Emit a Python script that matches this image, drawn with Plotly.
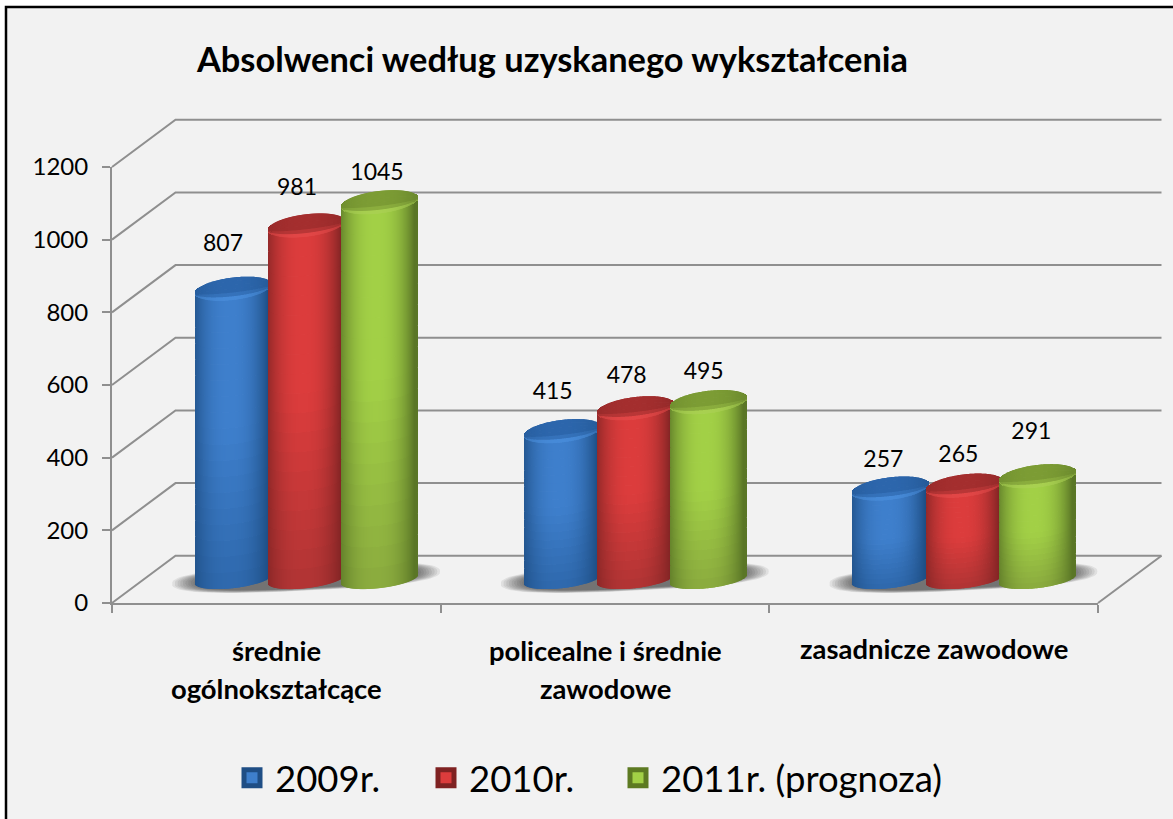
import math
import plotly.graph_objects as go

# ---- data ----
categories = [["średnie", "ogólnokształcące"], ["policealne i średnie", "zawodowe"], ["zasadnicze zawodowe"]]
series_names = ["2009r.", "2010r.", "2011r. (prognoza)"]
values_2009 = [807, 415, 257]
values_2010 = [981, 478, 265]
values_2011 = [1045, 495, 291]
y_ticks = [0, 200, 400, 600, 800, 1000, 1200]
title_text = "Absolwenci według uzyskanego wykształcenia"

# ---- styles / layout ----
W, H = 1173, 819
L, R, T, B = 112, 1098, 167, 603          # visible axes box
OL, OT, OB = 100, 100, 620                # outer plot area (walls, shadows)
PX_X = (R - L) / 3
PX_Y = (B - T) / 1200
FONT = "Lato"
GRID = "#8f8f8f"
BG = "#f2f2f2"
# (centre, bottom, edge, cap, rim, legend line)
palettes = [
    ((62, 127, 204), (46, 104, 172), (30, 78, 132), (44, 102, 172), (70, 138, 216), "#1f4e85"),
    ((220, 60, 60), (176, 52, 52), (130, 36, 36), (164, 46, 46), (226, 70, 70), "#7f2222"),
    ((162, 208, 70), (138, 170, 62), (90, 118, 38), (124, 156, 52), (168, 208, 80), "#5d7a22"),
]
series_values = [values_2009, values_2010, values_2011]
bar_offsets = [121.6 / PX_X, 195 / PX_X, 268 / PX_X]
bar_w = 76.6 / PX_X
base_c = 66.0            # value height of the base ellipse centre (floor depth)
top_shift = 58.0         # value height added to the cap centre
depth = 130.0            # value shift of the back wall
depth_x = 63.5 / PX_X    # x shift of the back wall
tilt = 103.0             # ellipse tilt, value per x-unit
ry_top, ry_bot = 31.0, 25.0
# label nudges: (px x, value y)
label_nudge = [
    [(-10.6, 177), (-10, 159), (-3, 134)],
    [(-9.6, 161), (-9, 142), (-5, 136)],
    [(-7.6, 134), (-6, 140), (-6, 177)],
]
legend_widths = [143, 141, 330]


def mix(a, b, t):
    return tuple(a[i] + (b[i] - a[i]) * t for i in range(3))


def rgb(c):
    return "rgb(%d,%d,%d)" % tuple(max(0, min(255, round(v))) for v in c)


def cylinder(si):
    pal = palettes[si]
    xs, bases, hs, cols = [], [], [], []
    strip = 1 / PX_X
    n = int(bar_w / strip)
    for gi in range(3):
        v = series_values[si][gi]
        cx = gi + bar_offsets[si]
        top_c = v + top_shift
        for k in range(n):
            dx = (k + 0.5 - n / 2) * strip
            t = dx / (bar_w / 2)
            s = math.sqrt(max(0, 1 - t * t))
            h_shade = abs(t + 0.08) ** 2.4
            lo = base_c + tilt * dx - ry_bot * s
            hi = top_c + tilt * dx - ry_top * s
            cap_hi = top_c + tilt * dx + ry_top * s
            # body
            m = 18
            for j in range(m):
                f0, f1 = j / m, (j + 1) / m
                vert = min(1, ((j + 0.5) / m) / 0.55)
                c = mix(pal[1], pal[0], vert)
                c = mix(c, pal[2], min(1, h_shade))
                xs.append(cx + dx)
                bases.append(lo + (hi - lo) * f0)
                hs.append((hi - lo) * (f1 - f0) + 0.8)
                cols.append(rgb(c))
            # cap
            m2 = 6
            for j in range(m2):
                f0, f1 = j / m2, (j + 1) / m2
                c = mix(pal[4], pal[3], min(1, j / 1.5))
                c = mix(c, pal[2], min(1, h_shade) * 0.45)
                xs.append(cx + dx)
                bases.append(hi + (cap_hi - hi) * f0)
                hs.append((cap_hi - hi) * (f1 - f0) + (0.8 if j < m2 - 1 else 0))
                cols.append(rgb(c))
    return go.Bar(
        x=xs, base=bases, y=hs, width=strip * 1.05,
        marker=dict(color=cols, line=dict(width=0)),
        xaxis="x2", yaxis="y2", cliponaxis=False, hoverinfo="skip", showlegend=False,
    )


fig = go.Figure()

# walls: back lines and side diagonals, on the wide hidden axes so that they lie under the bars
for v in y_ticks:
    fig.add_trace(go.Scatter(
        x=[0, depth_x, 3 + depth_x], y=[v, v + depth, v + depth], mode="lines",
        line=dict(color=GRID, width=2), hoverinfo="skip", showlegend=False,
    ))
fig.add_trace(go.Scatter(
    x=[3, 3 + depth_x], y=[0, depth], mode="lines",
    line=dict(color=GRID, width=2), hoverinfo="skip", showlegend=False,
))

# floor shadows: stacked translucent rounded ellipses give a soft edge
for gi in range(3):
    sx = gi + 194 / PX_X
    for i in range(10):
        grow = 1 - i * 0.02
        xs, ys = [], []
        for a in range(73):
            ang = a / 72 * 2 * math.pi
            ca, sa = math.cos(ang), math.sin(ang)
            dx = math.copysign(abs(ca) ** 0.7, ca) * (134 / PX_X) * grow
            xs.append(sx + dx)
            ys.append(70 + 42 * dx + math.copysign(abs(sa) ** 0.8, sa) * 36 * grow)
        fig.add_trace(go.Scatter(
            x=xs, y=ys, mode="lines", fill="toself", fillcolor="rgba(40,40,40,0.085)",
            line=dict(width=0), hoverinfo="skip", showlegend=False,
        ))

for si in range(3):
    fig.add_trace(cylinder(si))

# value labels
lab_x, lab_y, lab_t = [], [], []
for si in range(3):
    for gi in range(3):
        v = series_values[si][gi]
        nx, ny = label_nudge[gi][si]
        lab_x.append(gi + bar_offsets[si] + nx / PX_X)
        lab_y.append(v + ny)
        lab_t.append(str(v))
fig.add_trace(go.Scatter(
    x=lab_x, y=lab_y, text=lab_t, mode="text", textposition="middle center",
    textfont=dict(family=FONT, size=23, color="#000000"),
    xaxis="x2", yaxis="y2", cliponaxis=False, hoverinfo="skip", showlegend=False,
))

# legend entries
for si, name in enumerate(series_names):
    fig.add_trace(go.Scatter(
        x=[None], y=[None], mode="markers", name=name, legendwidth=legend_widths[si],
        marker=dict(symbol="square", size=16, color=rgb(palettes[si][0]),
                    line=dict(color=palettes[si][5], width=5)),
        hoverinfo="skip",
    ))


def py(p):
    return (OB - p) / (OB - OT)


def px(p):
    return (p - OL) / (W - OL)


annotations = []
cat_y = [[650, 688], [650, 688], [648]]
for gi, lines in enumerate(categories):
    for li, line in enumerate(lines):
        annotations.append(dict(
            text=line, x=gi + 0.5, xref="x2", y=py(cat_y[gi][li]), yref="paper",
            xanchor="center", yanchor="middle", showarrow=False,
            font=dict(family=FONT, size=27.4, color="#000000", weight="bold"),
        ))

axis_common = dict(showgrid=False, zeroline=False, linecolor=GRID, linewidth=2,
                   ticks="outside", tickcolor=GRID, tickwidth=2, ticklen=8)
fig.update_layout(
    width=W, height=H, autosize=False,
    margin=dict(l=OL, r=0, t=OT, b=H - OB, pad=0),
    paper_bgcolor="#ffffff", plot_bgcolor="rgba(0,0,0,0)",
    barmode="overlay", hovermode=False,
    title=dict(text=title_text, xref="container", yref="container", x=197 / W, xanchor="left",
               y=(H - 60) / H, yanchor="middle",
               font=dict(family=FONT, size=34.4, color="#000000", weight="bold")),
    xaxis=dict(range=[(OL - L) / PX_X, (W - L) / PX_X], visible=False),
    yaxis=dict(range=[(B - OB) / PX_Y, (B - OT) / PX_Y], visible=False),
    xaxis2=dict(domain=[px(L), px(R)], anchor="y2", range=[0, 3], tickvals=[0, 1, 2, 3],
                showticklabels=False, **axis_common),
    yaxis2=dict(domain=[py(B), py(T)], anchor="x2", range=[0, 1200], tickvals=y_ticks, ticklabelstandoff=9,
                tickfont=dict(family=FONT, size=24, color="#000000"), **axis_common),
    legend=dict(orientation="h", xref="container", yref="container", x=229 / W, xanchor="left",
                y=(H - 778) / H, yanchor="middle", bgcolor="rgba(0,0,0,0)",
                font=dict(family=FONT, size=36.5, color="#000000"),
                itemwidth=36, itemclick=False, itemdoubleclick=False),
    annotations=annotations,
    shapes=[dict(type="rect", xref="paper", yref="paper", x0=px(6), x1=px(W + 20), y0=py(H + 20), y1=py(7),
                 fillcolor=BG, line=dict(color="#000000", width=2.5), layer="below")],
)

fig.write_html("out.html", config={"displayModeBar": False},
               post_script="document.body.style.margin='0';document.body.style.overflow='hidden';")
